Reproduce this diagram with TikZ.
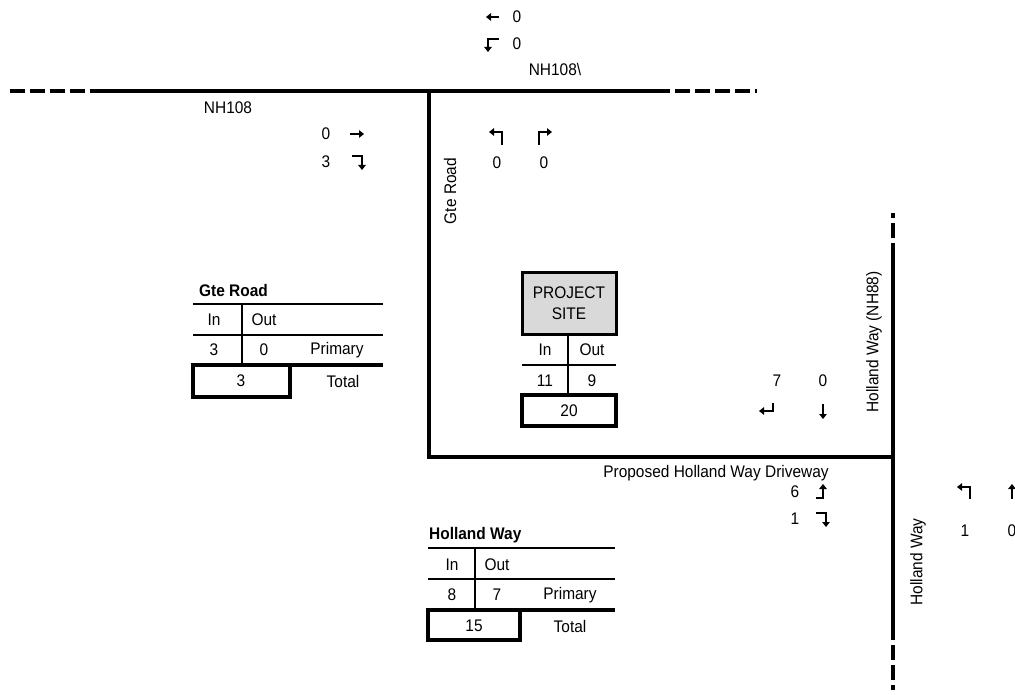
\documentclass[tikz,border=0pt]{standalone}
\usepackage{fontspec}
\setmainfont{Liberation Sans}[FakeStretch=0.92]
\usetikzlibrary{arrows.meta}

\tikzset{
  road/.style={line width=3.5pt},
  roaddash/.style={line width=3.5pt, dash pattern=on 15pt off 5pt},
  thinrule/.style={line width=2pt},
  thickrule/.style={line width=4pt},
  mv/.style={line width=2.2pt, -{Triangle[length=5pt,width=7.5pt]}},
  lbl/.style={font=\fontsize{16.8}{19}\selectfont, inner sep=0pt},
  ttl/.style={font=\fontsize{16.8}{19}\selectfont\bfseries, inner sep=0pt},
}

\begin{document}
\begin{tikzpicture}[x=1pt,y=-1pt]
  \useasboundingbox (0,0) rectangle (1015,695);

  % roads
  \draw[roaddash] (10,91) -- (90,91);
  \draw[road] (90,91) -- (670,91);
  \draw[roaddash] (675,91) -- (757,91);
  \draw[road] (429,89.25) -- (429,457) -- (894.75,457);
  \draw[roaddash] (893,258) -- (893,213);
  \draw[road] (893,258) -- (893,640);
  \draw[roaddash] (893,645) -- (893,690);

  % NH108 east approach
  \node[lbl] (wbT) at (517,17) {0};
  \draw[mv] (499,17) -- (486,17);
  \node[lbl] (wbL) at (517,44) {0};
  \draw[mv] (499,39) -- (488,39) -- (488,52);
  \node[lbl] (nhE) at (555,69) {NH108\textbackslash};

  % NH108 west approach
  \node[lbl] (nhW) at (228,108) {NH108};
  \node[lbl] (ebT) at (326,134) {0};
  \draw[mv] (350,134) -- (364,134);
  \node[lbl] (ebR) at (326,162) {3};
  \draw[mv] (352,156) -- (362,156) -- (362,170);

  % Gte Road approach
  \node[lbl,rotate=90] (gte) at (450,191) {Gte Road};
  \draw[mv] (502,145) -- (502,132) -- (489,132);
  \draw[mv] (539,145) -- (539,132) -- (552,132);
  \node[lbl] (nbL) at (497,163) {0};
  \node[lbl] (nbR) at (544,163) {0};

  % Gte Road table
  \node[ttl,anchor=west] (gteT) at (199,290) {Gte Road};
  \draw[thinrule] (193,304) -- (383,304);
  \draw[thinrule] (193,335) -- (383,335);
  \draw[thinrule] (242,304) -- (242,365);
  \draw[thickrule] (193,365) -- (383,365);
  \draw[thickrule] (193,365) rectangle (290,397);
  \node[lbl] (gteIn) at (214,320) {In};
  \node[lbl] (gteOut) at (264,320) {Out};
  \node[lbl] (gteInV) at (214,350) {3};
  \node[lbl] (gteOutV) at (264,350) {0};
  \node[lbl] (gtePri) at (337,350) {Primary};
  \node[lbl] (gteSum) at (241,381) {3};
  \node[lbl] (gteTot) at (343,381) {Total};

  % project site
  \node[draw, line width=3pt, fill=gray!30, minimum width=94pt,
        minimum height=61pt, align=center, lbl] (site) at (569,303.5) {PROJECT\\[2pt]SITE};
  \draw[thinrule] (568,334) -- (568,395);
  \draw[thinrule] (522,365) -- (616,365);
  \draw[thickrule] (522,395) rectangle (616,426);
  \node[lbl] (siteIn) at (545,350) {In};
  \node[lbl] (siteOut) at (592,350) {Out};
  \node[lbl] (siteInV) at (545,381) {11};
  \node[lbl] (siteOutV) at (592,381) {9};
  \node[lbl] (siteSum) at (569,411) {20};

  % Holland Way (NH88) south approach
  \node[lbl] (sbL) at (777,381) {7};
  \node[lbl] (sbT) at (823,381) {0};
  \draw[mv] (773,403) -- (773,411) -- (759,411);
  \draw[mv] (823,404) -- (823,419);
  \node[lbl,rotate=90] (hwN) at (874,342) {Holland Way (NH88)};

  % driveway
  \node[lbl] (drv) at (716,473) {Proposed Holland Way Driveway};
  \node[lbl] (wbDL) at (795,492) {6};
  \draw[mv] (816,498) -- (823,498) -- (823,484);
  \node[lbl] (wbDR) at (795,519) {1};
  \draw[mv] (816,513) -- (826,513) -- (826,527);

  % Holland Way north approach
  \node[lbl,rotate=90] (hwS) at (918,562) {Holland Way};
  \draw[mv] (970,499) -- (970,487) -- (957,487);
  \draw[mv] (1012,499) -- (1012,484);
  \node[lbl] (nbHL) at (965,531) {1};
  \node[lbl] (nbHT) at (1012,531) {0};

  % Holland Way table
  \node[ttl,anchor=west] (hwT) at (429,535) {Holland Way};
  \draw[thinrule] (428,548) -- (615,548);
  \draw[thinrule] (428,579) -- (615,579);
  \draw[thinrule] (475,548) -- (475,610);
  \draw[thickrule] (428,610) -- (615,610);
  \draw[thickrule] (428,610) rectangle (520,640);
  \node[lbl] (hwIn) at (452,565) {In};
  \node[lbl] (hwOut) at (497,565) {Out};
  \node[lbl] (hwInV) at (452,595) {8};
  \node[lbl] (hwOutV) at (497,595) {7};
  \node[lbl] (hwPri) at (570,595) {Primary};
  \node[lbl] (hwSum) at (474,626) {15};
  \node[lbl] (hwTot) at (570,626) {Total};
\end{tikzpicture}
\end{document}
